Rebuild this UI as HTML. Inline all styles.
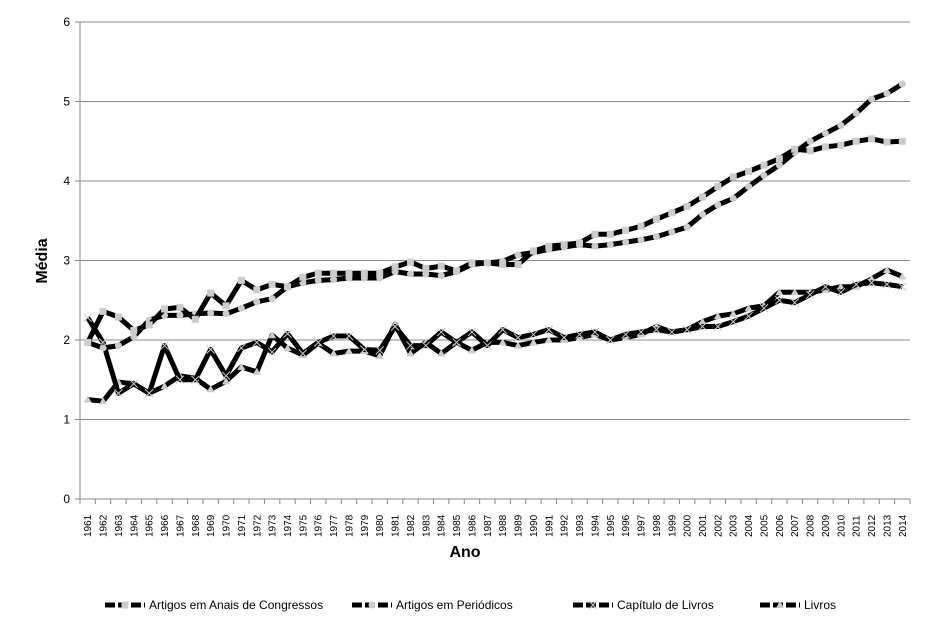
<!DOCTYPE html>
<html><head><meta charset="utf-8"><style>
body{margin:0;background:#fff}
svg{display:block;font-family:"Liberation Sans",sans-serif}
</style></head><body>
<svg id="c" width="931" height="633" xmlns="http://www.w3.org/2000/svg"></svg>
<script>
const A=[1.97,2.36,2.29,2.12,2.19,2.39,2.41,2.26,2.59,2.43,2.75,2.63,2.70,2.67,2.79,2.84,2.84,2.84,2.84,2.84,2.92,2.98,2.9,2.93,2.87,2.97,2.97,2.95,2.95,3.12,3.18,3.2,3.22,3.33,3.33,3.38,3.43,3.52,3.6,3.68,3.8,3.93,4.05,4.12,4.2,4.28,4.4,4.38,4.43,4.45,4.5,4.53,4.49,4.5];
const P=[1.97,1.9,1.93,2.04,2.25,2.31,2.31,2.33,2.34,2.33,2.4,2.48,2.52,2.67,2.72,2.75,2.76,2.78,2.78,2.78,2.86,2.83,2.83,2.81,2.86,2.95,2.97,2.99,3.07,3.1,3.14,3.17,3.2,3.18,3.2,3.23,3.26,3.3,3.36,3.42,3.58,3.7,3.78,3.93,4.07,4.2,4.36,4.5,4.6,4.7,4.85,5.03,5.1,5.22];
const C=[2.28,1.97,1.33,1.45,1.33,1.93,1.5,1.5,1.88,1.55,1.9,1.97,1.85,2.08,1.83,1.97,2.05,2.05,1.88,1.87,2.17,1.93,1.93,2.1,1.97,2.1,1.93,2.13,2.03,2.07,2.13,2.03,2.07,2.1,2.0,2.07,2.1,2.13,2.1,2.13,2.17,2.17,2.23,2.3,2.4,2.5,2.47,2.57,2.67,2.6,2.7,2.72,2.7,2.67];
const L=[1.25,1.23,1.47,1.45,1.33,1.42,1.55,1.52,1.38,1.48,1.66,1.6,2.06,1.9,1.81,1.96,1.83,1.86,1.86,1.8,2.2,1.83,1.97,1.83,1.97,1.87,1.97,1.97,1.93,1.97,2.0,2.0,2.03,2.07,2.0,2.03,2.07,2.17,2.1,2.13,2.23,2.3,2.33,2.4,2.43,2.6,2.6,2.6,2.63,2.67,2.67,2.77,2.88,2.8];
const x0=80,x1=910,y0=499,k=79.5,n=54,w=(x1-x0)/n;
const X=i=>x0+w*(i+.5),Y=v=>y0-k*v;
let s='';
for(let v=1;v<=6;v++)s+=`<line x1="${x0}" x2="${x1}" y1="${Y(v)}" y2="${Y(v)}" stroke="#888" stroke-width="1"/>`;
for(let v=0;v<=6;v++){s+=`<line x1="${x0-5}" x2="${x0}" y1="${Y(v)}" y2="${Y(v)}" stroke="#888"/><text x="${x0-10}" y="${Y(v)+4}" font-size="12" text-anchor="end">${v}</text>`;}
s+=`<line x1="${x0}" x2="${x0}" y1="${Y(6)}" y2="${y0}" stroke="#888"/><line x1="${x0}" x2="${x1}" y1="${y0}" y2="${y0}" stroke="#888"/>`;
for(let i=0;i<=n;i++)s+=`<line x1="${x0+w*i}" x2="${x0+w*i}" y1="${y0}" y2="${y0+5}" stroke="#888"/>`;
for(let i=0;i<n;i++)s+=`<text transform="translate(${X(i)+3.5},${y0+38}) rotate(-90)" font-size="10">${1961+i}</text>`;
function mk(t,x,y){if(t=='s')return `<rect x="${x-3.5}" y="${y-3.5}" width="7" height="7" fill="#ccc"/>`;
if(t=='c')return `<circle cx="${x}" cy="${y}" r="3.5" fill="#ccc"/>`;
if(t=='x')return `<path d="M${x-4} ${y-4}L${x+4} ${y+4}M${x-4} ${y+4}L${x+4} ${y-4}" stroke="#ccc" stroke-width="1"/>`;
return `<path d="M${x} ${y-4}L${x+4} ${y+3}L${x-4} ${y+3}Z" fill="#ccc"/>`;}
function ser(d,t){let p=d.map((v,i)=>(i?'L':'M')+X(i).toFixed(1)+' '+Y(v).toFixed(1)).join('');
let r=`<path d="${p}" fill="none" stroke="#000" stroke-width="5" stroke-linejoin="round"/>`;
d.forEach((v,i)=>r+=mk(t,X(i),Y(v)));return r;}
s+=ser(L,'t')+ser(C,'x')+ser(P,'c')+ser(A,'s');
s+=`<text transform="translate(47,261) rotate(-90)" font-size="16" font-weight="bold" text-anchor="middle">Média</text>`;
s+=`<text x="465" y="557" font-size="16" font-weight="bold" text-anchor="middle">Ano</text>`;
const lg=[[105,'Artigos em Anais de Congressos','s'],[352,'Artigos em Periódicos','c'],[573,'Capítulo de Livros','x'],[760,'Livros','t']];
lg.forEach(([x,t,m])=>{s+=`<line x1="${x}" x2="${x+40}" y1="605" y2="605" stroke="#000" stroke-width="5" stroke-dasharray="10,3"/>`+mk(m,x+20,605)+`<text x="${x+44}" y="609" font-size="12">${t}</text>`;});
document.getElementById('c').innerHTML=s;
</script>
</body></html>
